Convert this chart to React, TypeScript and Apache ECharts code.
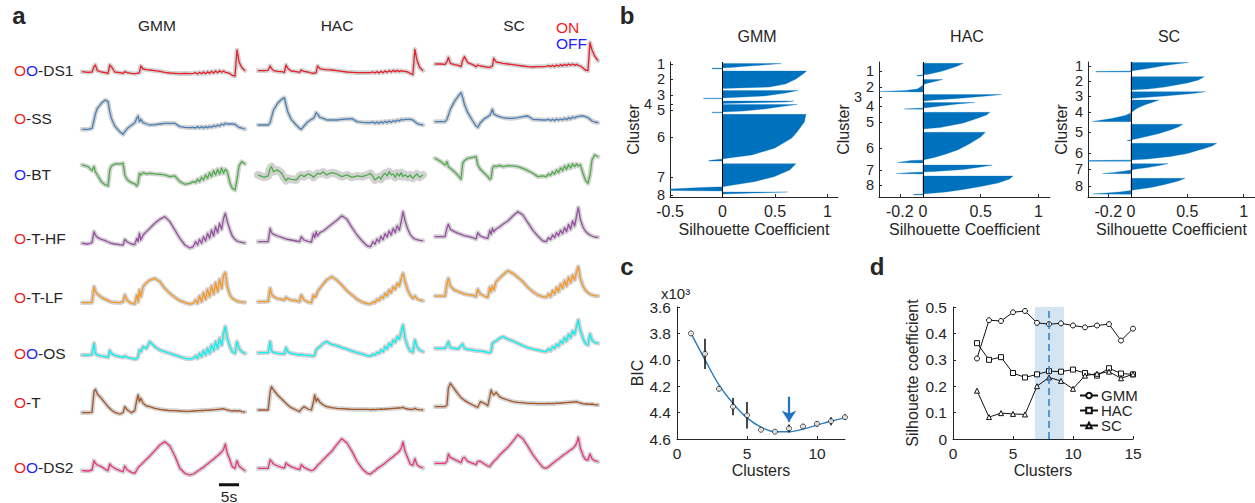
import React, { useEffect, useRef } from 'react';
import * as echarts from 'echarts';

const FONT = '"Liberation Sans", Arial, Helvetica, sans-serif';
const INK = '#262626';

// ---------- Panel a: time samples (s) ----------
const TIME = [0, 1.5, 2.5, 3, 3.33, 3.83, 4.83, 5.83, 6.5, 6.92, 7.33, 8.17, 9.42, 10.25, 10.67, 11.33, 12.33, 13.17, 13.67, 14, 14.33, 14.67, 15.25, 16.08, 16.92, 18.17, 19.42, 20.67, 21.92, 23.17, 24.42, 25.67, 26.92, 27.75, 28.33, 28.83, 29.33, 29.83, 30.33, 30.83, 31.33, 31.83, 32.33, 32.83, 33.33, 33.83, 34.33, 34.83, 35.33, 35.75, 36.25, 36.92, 37.5, 38.17, 38.67, 39.17, 39.83, 40.67];

const ROW_NAMES = ['DS1', 'SS', 'BT', 'T-HF', 'T-LF', 'OS', 'T', 'DS2'];
const ROW_PREFIX = ['rb', 'r', 'b', 'r', 'r', 'rb', 'r', 'rb'];
const COLUMN_TITLES = ['GMM', 'HAC', 'SC'];

// GMM column
const gmmDS1 = [19,17,18,34,39,22,18,16,14,39, 34,18,16,14,19,16,14,13,14,15, 16,36,27,25,24,22,20,17,15,14, 13,14,13,14,16,12,17,13,18,13, 19,14,20,15,21,16,22,17,21,17, 16,13,8,6,84,49,32,22];
const gmmSS = [20,20,23,48,66,83,98,108,103,73, 53,30,13,5,13,23,32,40,53,60, 43,50,40,36,33,34,36,38,38,38, 28,26,25,26,24,28,24,28,24,28, 25,29,26,31,28,33,30,36,33,38, 36,36,36,35,30,26,24,21];
const gmmBT = [85,80,68,80,65,55,35,25,22,70, 82,88,88,90,55,40,32,28,22,30, 60,55,62,58,60,58,57,55,50,52, 35,27,30,35,32,42,35,48,40,55, 45,62,50,68,55,72,58,75,60,72, 65,30,15,10,40,82,95,88];
const gmmTHF = [23,21,25,58,48,41,35,31,27,25, 23,21,19,18,35,27,21,19,38,28, 53,33,48,58,68,83,95,103,88,63, 38,18,9,13,28,18,35,23,43,30, 53,38,63,45,73,55,83,65,98,113, 88,63,45,35,30,28,26,24];
const gmmTLF = [12,12,13,60,45,38,28,22,18,16, 14,13,12,15,35,18,10,8,35,15, 50,30,60,72,80,85,75,55,40,28, 18,12,8,10,20,10,32,15,42,22, 52,30,62,38,72,45,82,55,95,102, 60,35,25,20,17,15,14,13];
const gmmOS = [20,20,21,55,25,20,17,15,13,33, 25,19,15,13,17,13,10,8,9,15, 35,30,45,40,60,45,35,30,25,20, 15,10,8,10,17,10,25,15,33,20, 40,25,50,33,60,40,70,50,85,105, 70,45,30,25,60,40,30,25];
const gmmT = [7,7,8,70,77,63,50,35,25,20, 15,8,3,7,25,15,7,13,45,60, 40,50,35,27,25,20,17,15,13,13, 12,11,11,12,12,13,13,14,13,15, 14,15,15,16,16,17,17,18,19,17, 15,13,12,13,12,13,10,9];
const gmmDS2 = [22,21,24,52,44,39,34,26,22,42, 36,29,22,19,36,24,17,14,24,31, 36,39,46,56,66,82,99,109,96,66, 29,14,9,12,16,21,24,29,32,38, 42,47,52,56,62,67,72,78,86,102, 74,54,34,29,52,36,29,22];

// HAC column
const hacDS1 = [22,22,23,36,29,22,20,19,17,39, 29,21,19,17,24,20,18,15,14,15, 16,36,28,26,25,24,22,20,18,17, 16,16,16,16,18,15,19,15,20,16, 21,17,22,18,23,19,23,19,22,20, 20,18,14,10,86,54,32,22];
const hacSS = [33,33,33,40,56,78,98,110,115,93, 73,50,33,23,20,30,43,50,53,60, 70,66,56,53,48,48,48,50,51,52, 43,41,40,40,42,38,42,38,43,39, 44,40,45,41,46,43,48,45,50,48, 50,50,50,48,43,38,35,33];
const hacBT = [55,48,52,75,80,65,70,60,45,38, 45,42,40,52,55,50,58,54,48,52, 56,60,58,64,55,62,58,50,55,48, 52,50,55,60,50,40,45,50,42,55, 60,52,65,55,58,48,60,52,62,50, 56,48,55,45,52,58,48,55];
const hacTHF = [28,28,28,68,55,50,45,41,38,36, 35,33,30,28,43,33,29,27,52,40, 58,45,55,60,68,80,92,106,95,70, 48,30,15,13,28,20,36,27,44,34, 52,42,60,48,68,55,76,62,90,118, 90,65,50,40,36,34,32,31];
const hacTLF = [15,15,16,55,38,30,24,22,20,28, 24,20,18,15,35,20,14,12,35,28, 32,45,55,68,80,90,80,65,48,35, 22,14,9,8,14,12,22,18,30,25, 40,33,50,42,60,52,70,62,85,100, 75,50,35,25,32,24,20,18];
const hacOS = [27,27,27,60,32,28,25,24,23,42, 30,25,22,20,22,20,19,18,17,20, 35,40,45,55,60,52,48,42,38,32, 27,23,18,17,22,20,28,25,35,30, 45,38,55,48,65,58,75,68,90,110, 70,45,32,28,65,45,35,30];
const hacT = [15,15,15,70,85,75,60,48,40,35, 30,22,15,10,18,25,18,15,40,60, 40,50,38,30,25,22,20,19,18,17, 17,17,17,16,17,16,17,17,18,17, 18,18,19,19,20,20,21,21,22,23, 20,18,17,17,20,17,16,15];
const hacDS2 = [29,29,29,55,50,42,36,32,30,45, 40,34,28,25,40,32,26,22,24,28, 32,38,44,55,65,80,100,118,105,80, 50,28,14,12,18,22,28,32,36,40, 45,50,55,60,64,70,74,80,90,108, 80,60,42,38,58,40,34,30];

// SC column
const scDS1 = [42,42,41,49,62,44,40,38,34,54, 64,46,40,34,39,36,34,32,32,34, 36,59,48,46,44,42,40,38,36,34, 33,34,34,35,37,34,38,34,39,35, 40,36,41,37,42,38,42,38,41,38, 36,30,24,22,106,84,66,52];
const scSS = [43,43,43,50,62,80,103,120,130,115, 95,70,45,30,26,40,52,58,62,70, 80,66,62,58,55,53,53,55,58,60, 50,49,48,48,50,46,50,46,51,47, 51,48,53,49,55,51,57,54,58,58, 60,60,58,55,50,45,42,40];
const scBT = [105,95,85,95,80,75,65,52,42,90, 98,105,108,110,85,72,60,50,42,45, 75,82,80,84,80,83,82,80,75,68, 60,50,52,50,58,54,64,58,70,62, 76,68,82,72,86,76,88,80,88,82, 86,60,40,30,55,100,115,110];
const scTHF = [43,43,43,70,80,65,58,53,50,48, 46,44,40,36,55,45,40,38,62,50, 68,58,66,72,80,90,105,118,108,85, 62,45,30,28,40,34,48,40,55,46, 62,52,70,58,80,65,90,75,105,130, 95,72,60,52,48,45,42,41];
const scTLF = [32,32,32,70,85,62,50,45,42,40, 38,36,34,30,52,38,32,28,58,45, 62,50,75,85,95,108,100,88,75,58, 45,35,30,28,38,30,48,38,58,45, 68,55,78,62,88,72,95,80,105,120, 85,62,50,42,38,35,33,32];
const scOS = [40,40,40,50,60,42,40,38,48,53, 40,37,35,33,33,32,30,28,27,30, 55,58,62,70,75,68,62,55,48,42, 38,35,31,30,38,33,45,40,52,46, 62,55,72,62,82,72,92,82,105,125, 95,70,55,50,83,65,58,55];
const scT = [25,25,25,30,80,95,78,62,52,48, 44,38,30,25,23,40,35,28,55,75, 65,60,68,55,50,45,40,38,37,35, 35,34,34,34,35,34,35,34,36,35, 36,36,37,37,38,38,39,39,40,38, 36,34,33,33,32,33,31,30];
const scDS2 = [44,44,44,50,72,62,56,50,46,60, 62,50,44,40,50,50,42,36,34,40, 45,50,56,68,78,92,110,130,118,95, 70,50,32,29,34,38,44,48,53,57, 62,67,71,75,80,84,88,94,104,122, 90,68,56,54,72,58,52,49];

const SCALE_BAR = [34.18, 39.18]; // 5 s
const SCALE_BAR_LEVEL = -20;

// ---------- Panel b: silhouette profiles [value, sample row] ----------
const GMM_SIL = [
  [[0.56,1.5],[0.45,2.5],[0.25,4],[0.08,5.5],[0,6],[-0.1,6.3],[-0.1,6.9],[0,6.9]],
  [[0.8,9],[0.78,11],[0.7,17],[0.6,22],[0.45,25],[0,26.5]],
  [[0.72,28.5],[0.6,31],[0.4,34],[0,36],[-0.18,36.2],[-0.18,36.8],[0,36.8]],
  [[0.68,39],[0.6,40],[0,41.5]],
  [[0.71,42.5],[0.6,44],[0.4,47],[0.2,49],[0,50],[-0.1,50.2],[-0.1,50.8],[0,50.8]],
  [[0.795,52.3],[0.78,60],[0.71,70],[0.66,76],[0.5,86],[0.28,93],[0.06,96],[0,97],[-0.13,98.5],[-0.13,99.1],[0,99.1]],
  [[0.7,101.7],[0.64,108],[0.49,114.7],[0.3,119.7],[0.1,123],[0,124.7],[-0.2,125.5],[-0.5,127],[-0.5,128.5],[0,129]],
  [[0.62,130],[0.3,131],[0,132]],
];
const HAC_SIL = [
  [[0.35,1.3],[0.3,4],[0.25,6],[0.17,9],[0.06,12],[0,13],[-0.05,13.3],[-0.05,13.9],[0,13.9]],
  [[0.17,17.5],[0.12,19],[0.03,21.5],[0,23],[-0.02,25],[-0.05,27],[-0.15,28.5],[-0.38,29.5],[0,30]],
  [[0.68,32.5],[0.6,33.5],[0.45,35],[0.3,36.5],[0.1,38],[0,39]],
  [[0.45,40.5],[0.3,42],[0.15,44],[0.05,45.5],[0,46],[-0.05,46.3],[-0.16,47],[0,47.3]],
  [[0.58,50.3],[0.55,53],[0.48,56],[0.35,61],[0.15,65.5],[0.05,66.5],[0,67]],
  [[0.54,70.3],[0.5,75],[0.4,82],[0.3,88],[0.2,92],[0.1,95.5],[0,98],[-0.1,98.5],[-0.22,100.5],[0,101]],
  [[0.6,103],[0.5,105],[0.35,107.5],[0.1,109.5],[0,110],[-0.1,110.5],[-0.23,111.5],[0,112]],
  [[0.78,114],[0.75,117],[0.65,121],[0.5,124.5],[0.35,127.5],[0.2,130],[0.05,131.5],[0,132],[-0.08,132.3],[-0.08,132.9],[0,132.9]],
];
const SC_SIL = [
  [[0.51,0.5],[0.4,2],[0.3,3.5],[0.15,6.5],[0,9],[-0.31,9.4],[-0.31,10],[0,10]],
  [[0.65,14.7],[0.6,18],[0.5,21],[0.3,25],[0.15,27],[0,28]],
  [[0.66,29.7],[0.55,31.5],[0.3,34],[0.05,36],[0,36.5]],
  [[0.25,38],[0.2,40],[0.12,43],[0.06,46],[0.02,49],[0,51],[-0.05,53.5],[-0.17,56.5],[-0.34,59.5],[0,59.8]],
  [[0.46,62.3],[0.42,65],[0.35,68],[0.25,71.5],[0.1,75.5],[0,78],[-0.03,78.3],[-0.03,78.9],[0,78.9]],
  [[0.76,81.3],[0.72,84],[0.65,86.5],[0.5,91.5],[0.35,94.5],[0.15,97],[0,98],[-0.38,98.6],[-0.38,99.2],[0,99.2]],
  [[0.33,101.7],[0.25,103.5],[0.15,105.5],[0.05,107],[0,108],[-0.05,109],[-0.15,110.5],[-0.25,111.5],[0,111.8]],
  [[0.48,116.3],[0.42,119],[0.3,122.5],[0.18,125.5],[0.05,127.5],[0,128.5],[-0.1,130],[-0.34,132],[0,132.3]],
];
const GMM_LABEL_ROWS = [2, 17, 33, 42, 48, 75, 115, 133];
const HAC_LABEL_ROWS = [9, 25, 35, 44, 60, 86, 108, 123];
const SC_LABEL_ROWS = [4, 19, 34, 50, 70, 91, 107, 124];
const SIL_TICKS_GMM = [-0.5, 0, 0.5, 1];
const SIL_TICKS_OTHER = [-0.2, 0, 0.5, 1];

// ---------- Panel c: BIC (x10^3) ----------
const BIC_CLUSTERS = [1, 2, 3, 4, 5, 6, 7, 8, 9, 10, 11, 12];
const BIC_MEAN = [3.8, 3.955, 4.22, 4.355, 4.42, 4.53, 4.545, 4.52, 4.505, 4.485, 4.465, 4.435];
const BIC_ERR = [0.005, 0.115, 0.01, 0.065, 0.1, 0.01, 0.01, 0.03, 0.015, 0.02, 0.03, 0.02];
const BIC_FIT = [3.8, 4.0, 4.19, 4.33, 4.44, 4.51, 4.545, 4.545, 4.525, 4.495, 4.465, 4.44];
const BIC_ARROW = [4.28, 4.47];
const BIC_TICKS = [3.6, 3.8, 4.0, 4.2, 4.4, 4.6];

// ---------- Panel d: silhouette coefficient vs clusters ----------
const D_CLUSTERS = [2, 3, 4, 5, 6, 7, 8, 9, 10, 11, 12, 13, 14, 15];
const D_GMM = [0.305, 0.45, 0.447, 0.48, 0.485, 0.44, 0.435, 0.438, 0.43, 0.423, 0.43, 0.435, 0.373, 0.418];
const D_HAC = [0.363, 0.3, 0.31, 0.25, 0.233, 0.245, 0.257, 0.255, 0.263, 0.25, 0.24, 0.268, 0.248, 0.245];
const D_SC = [0.183, 0.083, 0.098, 0.095, 0.093, 0.2, 0.233, 0.22, 0.19, 0.24, 0.247, 0.255, 0.23, 0.245];
const D_BAND = [6.83, 9.25];
const D_CHOSEN = 8;

function buildOption() {
  const grids: any[] = [];
  const xAxes: any[] = [];
  const yAxes: any[] = [];
  const series: any[] = [];
  const graphics: any[] = [];

  const addGrid = (g: any) => {
    grids.push({ ...g, outerBoundsMode: 'none', containLabel: false });
    return grids.length - 1;
  };

  const txt = (x: number, y: number, text: string, opts: any = {}) => {
    graphics.push({
      type: 'text', x, y, silent: true,
      style: {
        text, fill: opts.fill || INK,
        font: `${opts.weight || 'normal'} ${opts.size || 16}px ${FONT}`,
        textAlign: opts.align || 'center', textVerticalAlign: 'middle', verticalAlign: 'middle',
        rich: opts.rich,
      },
    });
  };

  // ---- panel a ----
  const rowColors = ['#e8202a', '#4a80b8', '#4dae49', '#974ea3', '#f8961f', '#00f4f4', '#a5572a', '#eb3380'];
  const rowBottom = [78, 136, 193.3, 251, 306.7, 361.7, 415, 478];
  const rowH = 46.67;
  const cols = [
    { left: 82, width: 163, traces: [gmmDS1, gmmSS, gmmBT, gmmTHF, gmmTLF, gmmOS, gmmT, gmmDS2] },
    { left: 258, width: 165, traces: [hacDS1, hacSS, hacBT, hacTHF, hacTLF, hacOS, hacT, hacDS2] },
    { left: 435, width: 163, traces: [scDS1, scSS, scBT, scTHF, scTLF, scOS, scT, scDS2] },
  ];
  cols.forEach((col, ci) => {
    ROW_NAMES.forEach((_, ri) => {
      const gi = addGrid({ left: col.left, width: col.width, top: rowBottom[ri] - rowH, height: rowH });
      xAxes.push({ gridIndex: gi, type: 'value', min: 0, max: TIME[TIME.length - 1], show: false });
      yAxes.push({ gridIndex: gi, type: 'value', min: 0, max: 140, show: false });
      const data = TIME.map((t, k) => [t, col.traces[ri][k]]);
      const bandW = ci === 1 && ri === 2 ? 8 : 4.6;
      series.push({
        type: 'line', xAxisIndex: gi, yAxisIndex: gi, data, symbol: 'none', clip: false, silent: true, z: 1,
        lineStyle: { color: '#d2d2d2', width: bandW, cap: 'round', join: 'round' },
      });
      series.push({
        type: 'line', xAxisIndex: gi, yAxisIndex: gi, data, symbol: 'none', clip: false, silent: true, z: 2,
        lineStyle: { color: rowColors[ri], width: 1.3, join: 'round' },
      });
      if (ci === 0 && ri === 7) {
        // 5 s scale bar, drawn through the time axis
        series.push({
          type: 'line', xAxisIndex: gi, yAxisIndex: gi, symbol: 'none', clip: false, silent: true, z: 3,
          data: [[SCALE_BAR[0], SCALE_BAR_LEVEL], [SCALE_BAR[1], SCALE_BAR_LEVEL]],
          lineStyle: { color: '#111', width: 3 },
        });
      }
    });
  });

  txt(19, 15, 'a', { size: 24, weight: 'bold' });
  COLUMN_TITLES.forEach((t, i) => txt([157, 337, 514][i], 25, t, { size: 15.5 }));
  txt(556, 27, 'ON', { size: 15.5, align: 'left', fill: '#f01e23' });
  txt(556, 43, 'OFF', { size: 15.5, align: 'left', fill: '#1e1eff' });
  const richBase = { fontSize: 15.5, fontFamily: FONT };
  const rowLabelY = [70, 118, 174, 238, 297, 353, 402, 467];
  ROW_NAMES.forEach((name, ri) => {
    const pre = ROW_PREFIX[ri].split('').map((c) => `{${c}|O}`).join('');
    txt(14, rowLabelY[ri], `${pre}{k|-${name}}`, {
      size: 15.5, align: 'left',
      rich: {
        r: { ...richBase, fill: '#f01e23', color: '#f01e23' },
        b: { ...richBase, fill: '#1e1eff', color: '#1e1eff' },
        k: { ...richBase, fill: INK, color: INK },
      },
    });
  });
  txt(229, 496, '5s', { size: 15.5 });

  // ---- panel b ----
  txt(627, 15, 'b', { size: 24, weight: 'bold' });
  const CL_FONT = 14.5;
  const sil = [
    { title: 'GMM', tx: 757, left: 670, width: 168, min: -0.5, ticks: SIL_TICKS_GMM, clusters: GMM_SIL, rows: GMM_LABEL_ROWS, off: 3, offX: 648, gap: 29 },
    { title: 'HAC', tx: 967, left: 879, width: 171, min: -0.38, ticks: SIL_TICKS_OTHER, clusters: HAC_SIL, rows: HAC_LABEL_ROWS, off: 2, offX: 858, gap: 28 },
    { title: 'SC', tx: 1169, left: 1088, width: 167, min: -0.38, ticks: SIL_TICKS_OTHER, clusters: SC_SIL, rows: SC_LABEL_ROWS, off: -1, offX: 0, gap: 19 },
  ];
  const axisText = (size: number) => ({ color: INK, fontSize: size, fontFamily: FONT });
  sil.forEach((s) => {
    txt(s.tx, 36, s.title, { size: 16 });
    const gi = addGrid({ left: s.left, width: s.width, top: 62, height: 135 });
    xAxes.push({
      gridIndex: gi, type: 'value', min: s.min, max: 1.1,
      name: 'Silhouette Coefficient', nameLocation: 'middle', nameGap: 24, nameTextStyle: axisText(16),
      axisLine: { show: true, onZero: false, lineStyle: { color: INK, width: 1 } },
      axisTick: { show: true, inside: true, length: 3, customValues: s.ticks, lineStyle: { color: INK } },
      axisLabel: { customValues: s.ticks, formatter: (v: number) => String(v), margin: 6, hideOverlap: false, showMinLabel: true, showMaxLabel: true, ...axisText(16) },
      splitLine: { show: false },
    });
    yAxes.push({
      gridIndex: gi, type: 'value', min: 0, max: 135, inverse: true,
      name: 'Cluster', nameLocation: 'middle', nameGap: s.gap, nameTextStyle: axisText(16),
      axisLine: { show: true, onZero: false, lineStyle: { color: INK, width: 1 } },
      axisTick: { show: true, inside: true, length: 3, customValues: s.rows, lineStyle: { color: INK } },
      axisLabel: {
        customValues: s.rows, margin: 5, hideOverlap: false, showMinLabel: true, showMaxLabel: true, lineHeight: 10,
        ...axisText(CL_FONT),
        formatter: (v: number) => {
          const i = s.rows.indexOf(v);
          return i === s.off ? '' : `${i + 1}`;
        },
      },
      splitLine: { show: false },
    });
    if (s.off >= 0) {
      // the offset cluster label, placed left of its neighbours as in the original
      graphics.push({
        type: 'text', silent: true,
        x: s.offX,
        y: 62 + s.rows[s.off],
        style: {
          text: String(s.off + 1), fill: INK, font: `${CL_FONT}px ${FONT}`,
          textAlign: 'center', textVerticalAlign: 'middle', verticalAlign: 'middle', lineHeight: 10,
        },
      });
    }
    series.push({
      type: 'custom', xAxisIndex: gi, yAxisIndex: gi, silent: true,
      data: s.clusters.map((c, i) => [c[0][0], c[0][1], i]),
      encode: { x: 0, y: 1 },
      renderItem: (params: any, api: any) => {
        const prof = s.clusters[params.dataIndex];
        const pts = [[0, prof[0][1]], ...prof, [0, prof[prof.length - 1][1]]].map((p) => api.coord(p));
        return { type: 'polygon', shape: { points: pts }, style: { fill: '#0072bd', stroke: '#0072bd', lineWidth: 0.3 } };
      },
      markLine: {
        silent: true, symbol: 'none', label: { show: false },
        lineStyle: { color: '#000', width: 1, type: 'solid' },
        data: [{ xAxis: 0 }],
      },
    });
  });

  // ---- panel c ----
  txt(627, 266, 'c', { size: 24, weight: 'bold' });
  txt(661, 293, 'x10³', { size: 15, align: 'left' });
  const gc = addGrid({ left: 677, top: 307, width: 168, height: 132 });
  xAxes.push({
    gridIndex: gc, type: 'value', min: 0, max: 12,
    name: 'Clusters', nameLocation: 'middle', nameGap: 23, nameTextStyle: axisText(16),
    axisLine: { show: true, onZero: false, lineStyle: { color: INK } },
    axisTick: { show: true, inside: true, length: 3, customValues: [0, 5, 10], lineStyle: { color: INK } },
    axisLabel: { customValues: [0, 5, 10], margin: 6, showMinLabel: true, ...axisText(15.5) },
    splitLine: { show: false },
  });
  yAxes.push({
    gridIndex: gc, type: 'value', min: 3.6, max: 4.6, inverse: true,
    name: 'BIC', nameLocation: 'middle', nameGap: 32, nameTextStyle: axisText(16),
    axisLine: { show: true, onZero: false, lineStyle: { color: INK } },
    axisTick: { show: true, inside: true, length: 3, customValues: BIC_TICKS, lineStyle: { color: INK } },
    axisLabel: { customValues: BIC_TICKS, formatter: (v: number) => v.toFixed(1), margin: 6, showMinLabel: true, showMaxLabel: true, ...axisText(15.5) },
    splitLine: { show: false },
  });
  series.push({
    type: 'line', xAxisIndex: gc, yAxisIndex: gc, smooth: 0.4, symbol: 'none', silent: true, z: 2,
    data: BIC_CLUSTERS.map((x, i) => [x, BIC_FIT[i]]),
    lineStyle: { color: '#2f7fc1', width: 1.5 },
    markLine: {
      silent: true, symbol: ['none', 'arrow'], symbolSize: 11, label: { show: false },
      lineStyle: { color: '#1f74c0', width: 2.2, type: 'solid' },
      data: [[{ coord: [8, BIC_ARROW[0]] }, { coord: [8, BIC_ARROW[1]] }]],
    },
  });
  series.push({
    type: 'custom', xAxisIndex: gc, yAxisIndex: gc, silent: true, z: 3,
    data: BIC_CLUSTERS.map((x, i) => [x, BIC_MEAN[i] - BIC_ERR[i], BIC_MEAN[i] + BIC_ERR[i]]),
    encode: { x: 0, y: [1, 2] },
    renderItem: (params: any, api: any) => {
      const a = api.coord([api.value(0), api.value(1)]);
      const b = api.coord([api.value(0), api.value(2)]);
      return { type: 'line', shape: { x1: a[0], y1: a[1], x2: b[0], y2: b[1] }, style: { stroke: '#1a1a1a', lineWidth: 1.6 } };
    },
  });
  series.push({
    type: 'scatter', xAxisIndex: gc, yAxisIndex: gc, silent: true, z: 4,
    data: BIC_CLUSTERS.map((x, i) => [x, BIC_MEAN[i]]),
    symbol: 'circle', symbolSize: 5,
    itemStyle: { color: '#ffffff', borderColor: '#1a1a1a', borderWidth: 1 },
  });

  // ---- panel d ----
  txt(877, 266, 'd', { size: 24, weight: 'bold' });
  const gd = addGrid({ left: 953, top: 307, width: 180, height: 132 });
  const dTicksY = [0, 0.1, 0.2, 0.3, 0.4, 0.5];
  xAxes.push({
    gridIndex: gd, type: 'value', min: 0, max: 15,
    name: 'Clusters', nameLocation: 'middle', nameGap: 23, nameTextStyle: axisText(16),
    axisLine: { show: true, onZero: false, lineStyle: { color: INK } },
    axisTick: { show: true, inside: true, length: 3, customValues: [0, 5, 10, 15], lineStyle: { color: INK } },
    axisLabel: { customValues: [0, 5, 10, 15], margin: 6, showMinLabel: true, showMaxLabel: true, ...axisText(15.5) },
    splitLine: { show: false },
  });
  yAxes.push({
    gridIndex: gd, type: 'value', min: 0, max: 0.5,
    name: 'Silhouette coefficient', nameLocation: 'middle', nameGap: 33, nameTextStyle: axisText(16),
    axisLine: { show: true, onZero: false, lineStyle: { color: INK } },
    axisTick: { show: true, inside: true, length: 3, customValues: dTicksY, lineStyle: { color: INK } },
    axisLabel: { customValues: dTicksY, formatter: (v: number) => (v === 0 ? '0' : v.toFixed(1)), margin: 6, showMinLabel: true, showMaxLabel: true, ...axisText(15.5) },
    splitLine: { show: false },
  });
  const dSeries = [
    { name: 'GMM', data: D_GMM, symbol: 'circle' },
    { name: 'HAC', data: D_HAC, symbol: 'rect' },
    { name: 'SC', data: D_SC, symbol: 'triangle' },
  ];
  dSeries.forEach((s, i) => {
    const ser: any = {
      type: 'line', name: s.name, xAxisIndex: gd, yAxisIndex: gd, silent: true, z: 3,
      data: D_CLUSTERS.map((x, k) => [x, s.data[k]]),
      symbol: s.symbol, symbolSize: 5, showAllSymbol: true,
      lineStyle: { color: '#111', width: 1 },
      itemStyle: { color: '#ffffff', borderColor: '#111', borderWidth: 1 },
    };
    if (i === 0) {
      ser.markArea = {
        silent: true, itemStyle: { color: '#d3e4f3', opacity: 1 },
        data: [[{ xAxis: D_BAND[0] }, { xAxis: D_BAND[1] }]],
      };
      ser.markLine = {
        silent: true, symbol: 'none', label: { show: false },
        lineStyle: { color: '#3a86c8', width: 1.6, type: [7, 4] },
        data: [{ xAxis: D_CHOSEN }],
      };
    }
    series.push(ser);
  });

  return {
    animation: false,
    backgroundColor: '#ffffff',
    textStyle: { fontFamily: FONT },
    grid: grids,
    xAxis: xAxes,
    yAxis: yAxes,
    legend: {
      data: ['GMM', 'HAC', 'SC'], orient: 'vertical', left: 1079, top: 388,
      itemWidth: 18, itemHeight: 7, itemGap: 0, padding: 0, selectedMode: false,
      textStyle: { color: INK, fontSize: 15, fontFamily: FONT, lineHeight: 14, padding: [0, 0, 0, -2] },
    },
    graphic: { elements: graphics },
    series,
  };
}

export default function App() {
  const ref = useRef<HTMLDivElement>(null);
  useEffect(() => {
    if (!ref.current) return;
    const chart = echarts.init(ref.current, undefined, { renderer: 'svg' });
    chart.setOption(buildOption() as any);
    return () => chart.dispose();
  }, []);
  return (
    <div
      ref={ref}
      style={{ position: 'absolute', left: 0, top: 0, width: 1255, height: 503, background: '#fff' }}
    />
  );
}
